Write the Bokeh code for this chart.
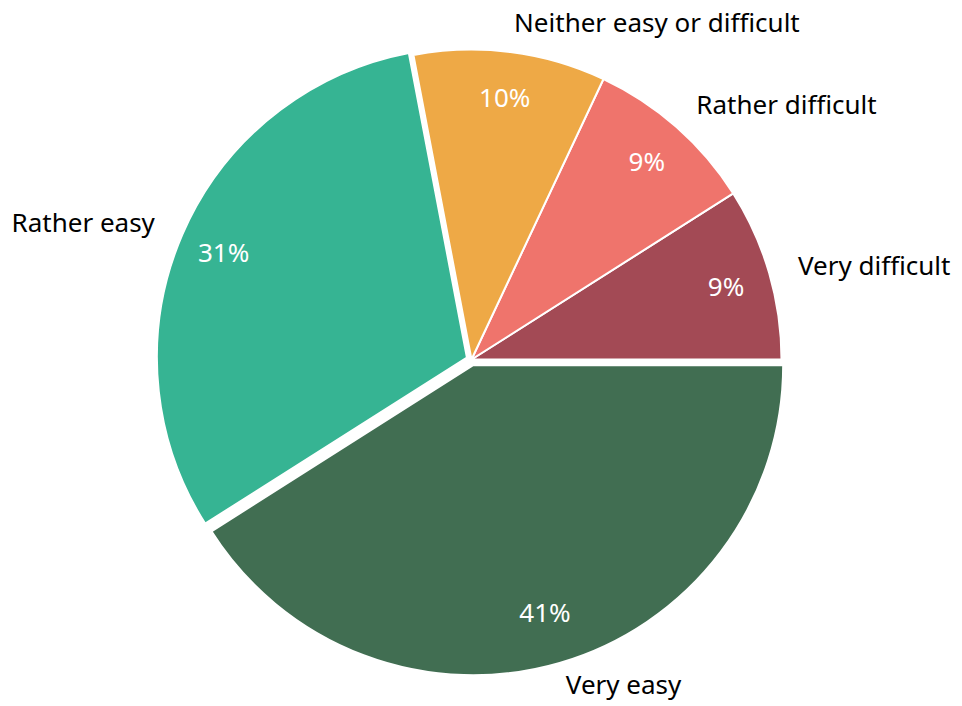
import math
from bokeh.plotting import figure
from bokeh.models import ColumnDataSource, Range1d
from bokeh.core.properties import value
from bokeh.embed import file_html
from bokeh.resources import INLINE

categories = ["Very difficult", "Rather difficult", "Neither easy or difficult", "Rather easy", "Very easy"]
percents = [9, 9, 10, 31, 41]
colors = ["#A34A55", "#EF746C", "#EEA946", "#36B493", "#416E52"]
pulls = [0, 0, 0, 5, 6]

W, H = 960, 704
cx, cy, r = 471, 345, 310
FONT = "Noto Sans"

total = sum(percents)
xs, ys, starts, ends = [], [], [], []
in_x, in_y, in_t = [], [], []
out_x, out_y, out_t, out_align = [], [], [], []
acc = 0.0
for cat, v, pl in zip(categories, percents, pulls):
    a0 = 2 * math.pi * acc / total
    a1 = 2 * math.pi * (acc + v) / total
    acc += v
    mid = (a0 + a1) / 2
    x0 = cx + pl * math.cos(mid)
    y0 = cy + pl * math.sin(mid)
    xs.append(x0); ys.append(y0); starts.append(a0); ends.append(a1)
    frac = 0.855 if math.sin(mid) >= 0 else 0.83
    in_x.append(x0 + frac * r * math.cos(mid))
    in_y.append(y0 + frac * r * math.sin(mid))
    in_t.append(f"{v}%")
    gap = 30 if math.sin(mid) >= 0 else 22
    out_x.append(x0 + (r + gap) * math.cos(mid))
    out_y.append(y0 + (r + gap) * math.sin(mid))
    out_t.append(cat)
    out_align.append("left" if math.cos(mid) >= 0 else "right")

p = figure(width=W, height=H, output_backend="svg", toolbar_location=None,
           x_range=Range1d(0, W), y_range=Range1d(0, H), min_border=0)
p.axis.visible = False
p.grid.visible = False
p.outline_line_color = None
p.background_fill_color = "white"
p.border_fill_color = "white"

src = ColumnDataSource(dict(x=xs, y=ys, start=starts, end=ends, color=colors))
p.wedge(x="x", y="y", radius=r, start_angle="start", end_angle="end",
        fill_color="color", line_color="white", line_width=2, source=src)

p.text(x=in_x, y=in_y, text=in_t, text_color="white", text_font=value(FONT),
       text_font_size="26px", text_align="center", text_baseline="middle")

osrc = ColumnDataSource(dict(x=out_x, y=out_y, text=out_t, align=out_align))
p.text(x="x", y="y", text="text", text_align="align", source=osrc,
       text_color="black", text_font=value(FONT), text_font_size="26px",
       text_baseline="middle")

open("out.html", "w").write(file_html(p, INLINE))
